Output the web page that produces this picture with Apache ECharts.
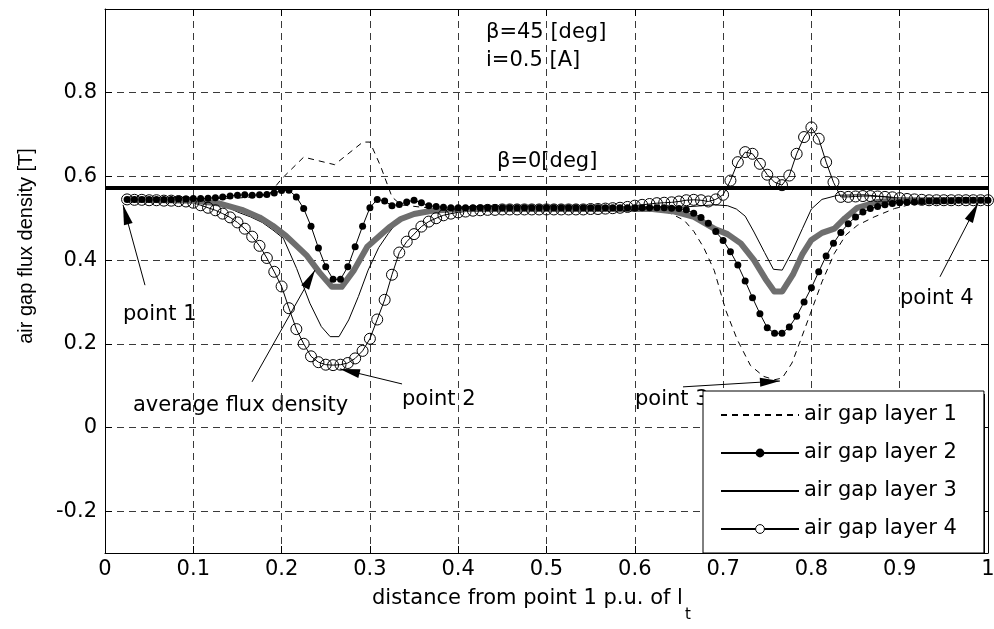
<!DOCTYPE html>
<html>
<head>
<meta charset="utf-8">
<style>
  html, body { margin: 0; padding: 0; width: 100%; height: 100%; overflow: hidden; background: #fff; }
</style>
<script src="https://cdn.jsdelivr.net/npm/echarts@6/dist/echarts.min.js"></script>
</head>
<body>
<div id="container" style="width: 994px; height: 629px;"></div>
<script>
// sample positions of the marked layers (p.u. of lt)
const xs = [
  0.025, 0.0333, 0.0417, 0.05, 0.0583, 0.0667, 0.075, 0.0833, 0.0917, 0.1,
  0.1083, 0.1167, 0.125, 0.1333, 0.1417, 0.15, 0.1583, 0.1667, 0.175, 0.1833,
  0.1917, 0.2, 0.2083, 0.2167, 0.225, 0.2333, 0.2417, 0.25, 0.2583, 0.2667,
  0.275, 0.2833, 0.2917, 0.3, 0.3083, 0.3167, 0.325, 0.3333, 0.3417, 0.35,
  0.3583, 0.3667, 0.375, 0.3833, 0.3917, 0.4, 0.4083, 0.4167, 0.425, 0.4333,
  0.4417, 0.45, 0.4583, 0.4667, 0.475, 0.4833, 0.4917, 0.5, 0.5083, 0.5167,
  0.525, 0.5333, 0.5417, 0.55, 0.5583, 0.5667, 0.575, 0.5833, 0.5917, 0.6,
  0.6083, 0.6167, 0.625, 0.6333, 0.6417, 0.65, 0.6583, 0.6667, 0.675, 0.6833,
  0.6917, 0.7, 0.7083, 0.7167, 0.725, 0.7333, 0.7417, 0.75, 0.7583, 0.7667,
  0.775, 0.7833, 0.7917, 0.8, 0.8083, 0.8167, 0.825, 0.8333, 0.8417, 0.85,
  0.8583, 0.8667, 0.875, 0.8833, 0.8917, 0.9, 0.9083, 0.9167, 0.925, 0.9333,
  0.9417, 0.95, 0.9583, 0.9667, 0.975, 0.9833, 0.9917, 1.0
];

const layer2 = [
  0.545, 0.545, 0.545, 0.545, 0.545, 0.545, 0.545, 0.546, 0.546, 0.547,
  0.547, 0.548, 0.549, 0.551, 0.553, 0.555, 0.556, 0.555, 0.556, 0.557,
  0.560, 0.566, 0.567, 0.551, 0.523, 0.481, 0.429, 0.384, 0.354, 0.354,
  0.384, 0.432, 0.481, 0.525, 0.545, 0.541, 0.530, 0.533, 0.539, 0.543,
  0.537, 0.530, 0.528, 0.526, 0.525, 0.525, 0.525, 0.525, 0.525, 0.525,
  0.525, 0.525, 0.525, 0.525, 0.525, 0.525, 0.525, 0.525, 0.525, 0.525,
  0.525, 0.525, 0.525, 0.525, 0.525, 0.525, 0.525, 0.525, 0.525, 0.525,
  0.525, 0.525, 0.525, 0.525, 0.524, 0.523, 0.520, 0.512, 0.502, 0.488,
  0.468, 0.447, 0.420, 0.388, 0.350, 0.310, 0.272, 0.238, 0.225, 0.225,
  0.240, 0.266, 0.300, 0.334, 0.372, 0.410, 0.440, 0.466, 0.487, 0.503,
  0.515, 0.523, 0.528, 0.532, 0.535, 0.537, 0.538, 0.539, 0.540, 0.541,
  0.541, 0.542, 0.542, 0.543, 0.543, 0.543, 0.543, 0.543
];

const layer4 = [
  0.545, 0.544, 0.544, 0.543, 0.543, 0.542, 0.542, 0.541, 0.540, 0.537,
  0.531, 0.525, 0.519, 0.511, 0.502, 0.490, 0.475, 0.456, 0.434, 0.405,
  0.372, 0.337, 0.285, 0.235, 0.200, 0.170, 0.156, 0.150, 0.149, 0.150,
  0.154, 0.165, 0.183, 0.212, 0.258, 0.305, 0.365, 0.418, 0.444, 0.462,
  0.480, 0.492, 0.500, 0.507, 0.511, 0.514, 0.516, 0.518, 0.519, 0.520,
  0.520, 0.521, 0.521, 0.521, 0.521, 0.521, 0.521, 0.521, 0.521, 0.521,
  0.521, 0.521, 0.521, 0.522, 0.522, 0.523, 0.524, 0.525, 0.527, 0.530,
  0.532, 0.534, 0.536, 0.537, 0.538, 0.540, 0.543, 0.544, 0.543, 0.540,
  0.545, 0.556, 0.590, 0.634, 0.658, 0.654, 0.630, 0.604, 0.586, 0.579,
  0.602, 0.654, 0.694, 0.717, 0.690, 0.634, 0.586, 0.551, 0.551, 0.552,
  0.553, 0.553, 0.552, 0.551, 0.550, 0.548, 0.546, 0.545, 0.544, 0.543,
  0.543, 0.543, 0.543, 0.543, 0.543, 0.543, 0.543, 0.543
];

// unmarked curves, vertices [x, B]
const layer1 = [
  [0.025, 0.545], [0.15, 0.548], [0.185, 0.555], [0.2, 0.594], [0.225, 0.646],
  [0.26, 0.628], [0.292, 0.682], [0.3, 0.682], [0.312, 0.625], [0.325, 0.551],
  [0.335, 0.532], [0.36, 0.526], [0.4, 0.522], [0.6, 0.522], [0.625, 0.52],
  [0.64, 0.512], [0.656, 0.495], [0.667, 0.468], [0.678, 0.43], [0.69, 0.375],
  [0.703, 0.28], [0.716, 0.21], [0.731, 0.148], [0.746, 0.122], [0.758, 0.114],
  [0.767, 0.118], [0.778, 0.154], [0.788, 0.21], [0.799, 0.273], [0.812, 0.348],
  [0.826, 0.416], [0.839, 0.46], [0.852, 0.483], [0.871, 0.503], [0.894, 0.523],
  [0.916, 0.535], [0.94, 0.541], [1.0, 0.543]
];

const layer3 = [
  [0.025, 0.545], [0.12, 0.54], [0.135, 0.53], [0.15, 0.515], [0.165, 0.503],
  [0.178, 0.49], [0.19, 0.472], [0.202, 0.452], [0.217, 0.38], [0.232, 0.297],
  [0.245, 0.241], [0.255, 0.217], [0.265, 0.217], [0.276, 0.257], [0.287, 0.313],
  [0.298, 0.376], [0.31, 0.43], [0.321, 0.464], [0.33, 0.488], [0.34, 0.505],
  [0.355, 0.515], [0.38, 0.52], [0.45, 0.522], [0.6, 0.522], [0.65, 0.526],
  [0.69, 0.532], [0.705, 0.53], [0.715, 0.522], [0.725, 0.505], [0.735, 0.467],
  [0.747, 0.418], [0.757, 0.378], [0.767, 0.376], [0.778, 0.42], [0.79, 0.476],
  [0.8, 0.522], [0.812, 0.545], [0.83, 0.555], [0.86, 0.556], [0.9, 0.548],
  [0.95, 0.544], [1.0, 0.543]
];

const average = [
  [0.025, 0.545], [0.1, 0.542], [0.13, 0.535], [0.155, 0.52], [0.175, 0.502],
  [0.19, 0.482], [0.205, 0.458], [0.228, 0.412], [0.243, 0.37], [0.257, 0.336],
  [0.268, 0.336], [0.282, 0.376], [0.297, 0.432], [0.312, 0.46], [0.323, 0.48],
  [0.335, 0.498], [0.35, 0.51], [0.37, 0.518], [0.4, 0.522], [0.62, 0.522],
  [0.645, 0.516], [0.667, 0.503], [0.69, 0.475], [0.705, 0.462], [0.72, 0.44],
  [0.735, 0.4], [0.748, 0.355], [0.758, 0.325], [0.767, 0.325], [0.779, 0.365],
  [0.79, 0.415], [0.8, 0.448], [0.812, 0.465], [0.826, 0.475], [0.838, 0.5],
  [0.852, 0.525], [0.875, 0.539], [0.9, 0.543], [1.0, 0.543]
];

const beta0Level = 0.572;

const legendNames = ['air gap layer 1', 'air gap layer 2', 'air gap layer 3', 'air gap layer 4'];

// annotation arrows: [from, to] in data coords
const arrows = [
  [[0.0453, 0.340], [0.0204, 0.532]],
  [[0.1665, 0.109], [0.2378, 0.376]],
  [[0.3364, 0.104], [0.2661, 0.140]],
  [[0.6546, 0.097], [0.7644, 0.111]],
  [[0.9456, 0.360], [0.9887, 0.536]]
];

// annotation texts (pixel placement)
const notes = [
  { text: 'β=45 [deg]', x: 486, y: 33 },
  { text: 'i=0.5 [A]', x: 486, y: 61 },
  { text: 'β=0[deg]', x: 497, y: 162 },
  { text: 'point 1', x: 123, y: 315 },
  { text: 'average flux density', x: 133, y: 406 },
  { text: 'point 2', x: 402, y: 400 },
  { text: 'point 3', x: 635, y: 400 },
  { text: 'point 4', x: 900, y: 299 }
];

const FONT = '21px "DejaVu Sans"';

var dom = document.getElementById('container');
var myChart = echarts.init(dom, null, { renderer: 'canvas' });

function pairs(values) {
  return xs.map(function (x, i) { return [x, values[i]]; });
}

var axisBlack = { show: true, onZero: false, lineStyle: { color: '#000', width: 1 } };
var gridDash = { show: true, lineStyle: { color: '#3a3a3a', width: 1, type: [7, 5] } };
var tickIn = { inside: true, length: 7, lineStyle: { color: '#000' } };

var option = {
  animation: false,
  textStyle: { fontFamily: 'DejaVu Sans' },
  grid: { left: 105, right: 6, top: 9, bottom: 76, outerBoundsMode: 'none' },
  xAxis: [{
    type: 'value', min: 0, max: 1, interval: 0.1, position: 'bottom',
    axisLine: axisBlack, axisTick: tickIn,
    axisLabel: { color: '#000', fontSize: 21, margin: 6 },
    splitLine: gridDash
  }, {
    type: 'value', min: 0, max: 1, interval: 0.1, position: 'top',
    axisLine: axisBlack, axisTick: tickIn,
    axisLabel: { show: false },
    splitLine: { show: false }
  }],
  yAxis: [{
    type: 'value', min: -0.3, max: 1, splitNumber: 6, position: 'left',
    axisLine: axisBlack, axisTick: tickIn,
    axisLabel: { color: '#000', fontSize: 21, margin: 8, showMinLabel: false, showMaxLabel: false },
    splitLine: gridDash
  }, {
    type: 'value', min: -0.3, max: 1, splitNumber: 6, position: 'right',
    axisLine: axisBlack, axisTick: tickIn,
    axisLabel: { show: false },
    splitLine: { show: false }
  }],
  legend: {
    z: 8,
    data: [
      { name: legendNames[0], itemStyle: { opacity: 0 } },
      { name: legendNames[1] },
      { name: legendNames[2], itemStyle: { opacity: 0 } },
      { name: legendNames[3], itemStyle: { color: '#fff', borderColor: '#000', borderWidth: 1 } }
    ],
    orient: 'vertical', left: 703, top: 391, selectedMode: false,
    backgroundColor: '#fff', borderColor: '#000', borderWidth: 1, borderRadius: 0,
    padding: [12, 27, 12, 17], itemWidth: 78, itemHeight: 11, itemGap: 14,
    textStyle: { fontSize: 21, color: '#000', lineHeight: 24 }
  },
  series: [{
    name: legendNames[0], type: 'line', data: layer1, symbol: 'none', silent: true,
    lineStyle: { color: '#000', width: 1, type: [6, 5] }
  }, {
    name: legendNames[1], type: 'line', data: pairs(layer2), symbol: 'circle', symbolSize: 7, silent: true,
    itemStyle: { color: '#000' }, lineStyle: { color: '#000', width: 1 }
  }, {
    name: legendNames[2], type: 'line', data: layer3, symbol: 'none', silent: true,
    lineStyle: { color: '#000', width: 1 }
  }, {
    name: legendNames[3], type: 'line', data: pairs(layer4), symbol: 'circle', symbolSize: 11, silent: true,
    itemStyle: { color: 'rgba(0,0,0,0)', borderColor: '#000', borderWidth: 1 },
    lineStyle: { color: '#000', width: 1 }
  }, {
    name: 'average flux density', type: 'line', data: average, symbol: 'none', silent: true,
    lineStyle: { color: '#6e6e6e', width: 6, join: 'round' }
  }, {
    name: 'beta0', type: 'line', data: [[0, beta0Level], [1, beta0Level]], symbol: 'none', silent: true,
    lineStyle: { color: '#000', width: 4 },
    markLine: {
      silent: true, animation: false,
      symbol: ['none', 'triangle'],
      lineStyle: { color: '#000', width: 1, type: 'solid' },
      label: { show: false },
      emphasis: { disabled: true },
      data: arrows.map(function (a) {
        return [
          { coord: a[0], symbol: 'none' },
          { coord: a[1], symbol: 'triangle', symbolSize: [9, 20], symbolOffset: [0, '50%'] }
        ];
      })
    }
  }],
  graphic: [
    // legend box shadow (right and bottom edges)
    { type: 'rect', z: 7, silent: true, shape: { x: 706, y: 394, width: 279, height: 160 },
      style: { fill: '#000' } }
  ].concat(notes.map(function (n) {
    return { type: 'text', x: n.x, y: n.y, silent: true,
      style: { text: n.text, font: FONT, fill: '#000', verticalAlign: 'middle' } };
  })).concat([
    { type: 'text', x: 372, y: 599, silent: true,
      style: { text: 'distance from point 1 p.u. of l', font: FONT, fill: '#000', verticalAlign: 'middle' } },
    { type: 'text', x: 685, y: 615, silent: true,
      style: { text: 't', font: '15px "DejaVu Sans"', fill: '#000', verticalAlign: 'middle' } },
    { type: 'text', x: 26, y: 246, rotation: Math.PI / 2, silent: true,
      style: { text: 'air gap flux density [T]', font: '20px "Liberation Sans"', fill: '#000',
        align: 'center', verticalAlign: 'middle' } }
  ])
};

myChart.setOption(option);
</script>
</body>
</html>
